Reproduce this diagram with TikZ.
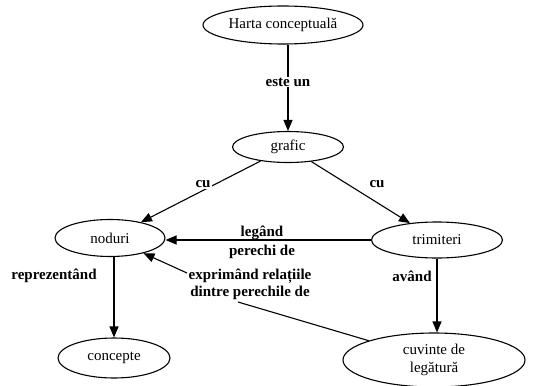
\documentclass[tikz,border=0pt]{standalone}
\usepackage{fontspec}
\setmainfont{Liberation Serif}
\usetikzlibrary{arrows.meta,shapes.geometric}
\begin{document}
\begin{tikzpicture}[x=1pt,y=-1pt,
  concept/.style={draw,ellipse,line width=1.1pt,inner sep=0pt,font=\fontsize{15}{16}\selectfont,align=center},
  lbl/.style={font=\bfseries\fontsize{15}{17}\selectfont,align=center,inner sep=1pt},
  lblw/.style={lbl,fill=white},
  conn/.style={line width=1.1pt,-{Triangle[length=11pt,width=9pt]}},
  plain/.style={line width=1.1pt}]
\useasboundingbox (0,0) rectangle (534,385);
\node[concept,minimum width=160pt,minimum height=38pt] (harta) at (283,25) {Harta conceptuală};
\node[concept,minimum width=111pt,minimum height=31pt] (grafic) at (288,147) {grafic};
\node[concept,minimum width=110pt,minimum height=37pt] (noduri) at (110,238) {noduri};
\node[concept,minimum width=131pt,minimum height=36pt] (trim) at (437,240) {trimiteri};
\node[concept,minimum width=112pt,minimum height=40pt] (conc) at (114,358) {concepte};
\node[concept,minimum width=182pt,minimum height=54pt,font=\fontsize{15}{18}\selectfont] (cuv) at (434,360) {cuvinte de\\legătură};

\coordinate (p1) at (238,302);
\coordinate (p2) at (187,273);

\draw[conn] (harta.south -| grafic.north) -- (grafic.north);
\draw[conn] (grafic) -- (noduri);
\draw[conn] (grafic) -- (trim);
\draw[conn] (trim.west) -- (noduri.east |- trim.west);
\draw[conn] (noduri.south -| conc.north) -- (conc.north);
\draw[conn] (trim.south) -- (trim.south |- cuv.north);
\draw[plain] (cuv) -- (p1);
\draw[conn] (p2) -- (noduri);

\node[lblw] (l1) at (288,82) {este un};
\node[lblw] (l2) at (203,184) {cu};
\node[lblw] (l3) at (377,184) {cu};
\node[lbl,font=\bfseries\fontsize{15}{19}\selectfont] (l4) at (262,242) {legând\\perechi de};
\node[lbl] (l5) at (54,276) {reprezentând};
\node[lbl] (l6) at (412,276) {având};
\node[lbl,font=\bfseries\fontsize{15}{17}\selectfont] (l7) at (250,284) {exprimând relațiile\\dintre perechile de};
\end{tikzpicture}
\end{document}
